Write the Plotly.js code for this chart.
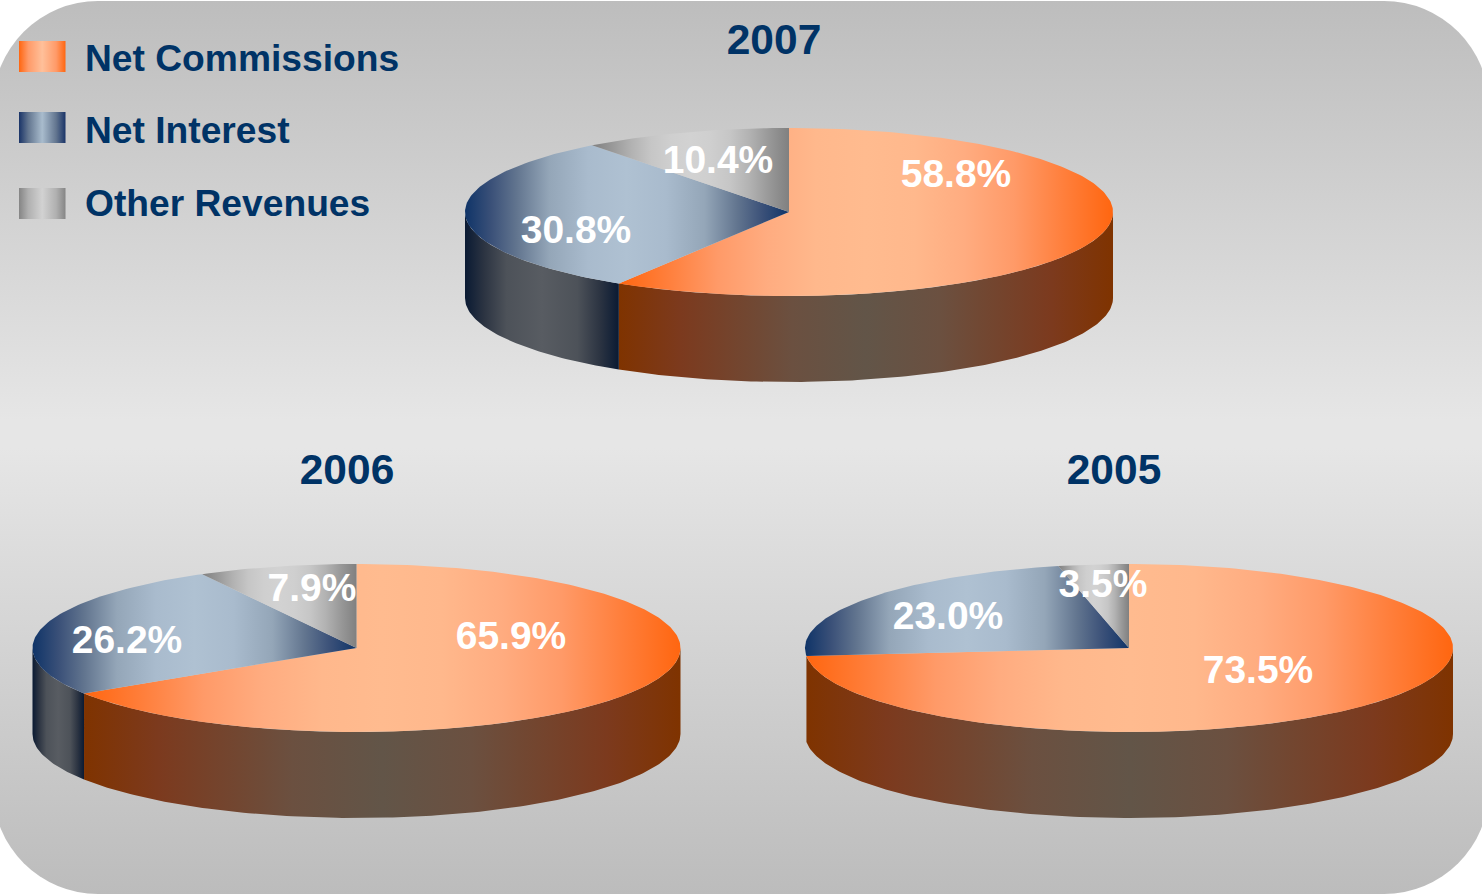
<!DOCTYPE html>
<html>
<head>
<meta charset="utf-8">
<script src="https://cdn.plot.ly/plotly-3.0.1.min.js"></script>
<style>
html,body{margin:0;padding:0;background:#fff;width:1482px;height:894px;overflow:hidden}
#bg{position:absolute;left:-7px;top:1px;width:1496px;height:893px;border-radius:105px;
background:linear-gradient(180deg,#bdbdbd 0%,#e6e6e6 47%,#e6e6e6 50%,#bcbcbc 100%)}
#chart{position:absolute;left:0;top:0;width:1482px;height:894px}
</style>
</head>
<body>
<div id="bg"></div>
<div id="chart"></div>
<script>
// Data
const years = ['2007', '2006', '2005'];
const categories = ['Net Commissions', 'Net Interest', 'Other Revenues'];
const netCommissions = [58.8, 65.9, 73.5];
const netInterest = [30.8, 26.2, 23.0];
const otherRevenues = [10.4, 7.9, 3.5];

// Layout of the page (pixel-like axis units)
const pieCentres = [[789, 212], [356.5, 648], [1129, 648]];
const titlePos = [[774, 43], [347, 473], [1114, 473]];
const labelPos = [
  [[956, 177.5], [576, 233.5], [718, 163.5]],
  [[511, 639.5], [127, 643.5], [312, 591.5]],
  [[1258, 673.5], [948, 619.5], [1103, 587.5]]
];
const RX = 324, RY = 84, DEPTH = 86;

// Styles: colour ramps from the edge of a shape (0) to its middle (0.5)
const topRamps = [
  [[0, '#ff6610'], [0.1, '#ff7f3c'], [0.2, '#ff9a68'], [0.3, '#ffac80'], [0.4, '#ffb88c'], [0.5, '#ffbb8f']],
  [[0, '#0f3468'], [0.08, '#3a5078'], [0.16, '#62758f'], [0.26, '#94a6b8'], [0.38, '#a9bbcd'], [0.5, '#afc1d2']],
  [[0, '#808080'], [0.1, '#989898'], [0.2, '#b2b2b2'], [0.3, '#c6c6c6'], [0.4, '#cfcfcf'], [0.5, '#d2d2d2']]
];
const wallRamps = [
  [[0, '#7f3300'], [0.125, '#7c3a1e'], [0.27, '#714833'], [0.35, '#6b5040'], [0.5, '#625548']],
  [[0, '#0a1a33'], [0.125, '#2c3442'], [0.27, '#4d5259'], [0.5, '#585c62']]
];
const swatchRamps = [
  [[0, '#ff6610'], [0.2, '#ff9a68'], [0.5, '#ffc09a']],
  [[0, '#1a3468'], [0.2, '#62758f'], [0.5, '#a9bccd']],
  [[0, '#858585'], [0.2, '#b0b0b0'], [0.5, '#d2d2d2']]
];
const NAVY = '#003366';
const FONT = 'Liberation Sans, Arial, sans-serif';

function grad(ramp) {
  const right = ramp.slice(0, -1).reverse().map(s => [1 - s[0], s[1]]);
  return {type: 'horizontal', colorscale: ramp.concat(right)};
}
const base = {hoverinfo: 'skip', showlegend: false, cliponaxis: false};

function arc(c, a0, a1, dy) {
  const xs = [], ys = [], n = Math.max(2, Math.ceil(Math.abs(a1 - a0)));
  for (let i = 0; i <= n; i++) {
    const a = (a0 + (a1 - a0) * i / n) * Math.PI / 180;
    xs.push(c[0] + RX * Math.sin(a));
    ys.push(c[1] - RY * Math.cos(a) + dy);
  }
  return [xs, ys];
}

const traces = [];
years.forEach((year, p) => {
  const c = pieCentres[p];
  const shares = [netCommissions[p], netInterest[p], otherRevenues[p]];
  let start = 0;
  const walls = [], tops = [];
  shares.forEach((v, s) => {
    const end = start + v * 3.6;
    const [ax, ay] = arc(c, start, end, 0);
    tops.push({...base, type: 'scatter', mode: 'lines', name: categories[s] + ' ' + year,
      x: [c[0], ...ax, c[0]], y: [c[1], ...ay, c[1]],
      fill: 'toself', line: {width: 0, color: topRamps[s][0][1]}, fillgradient: grad(topRamps[s])});
    const w0 = Math.max(start, 90), w1 = Math.min(end, 270);
    if (w1 - w0 > 10) {
      const [tx, ty] = arc(c, w0, w1, 0);
      const [bx, by] = arc(c, w1, w0, DEPTH);
      walls.push({...base, type: 'scatter', mode: 'lines', name: categories[s] + ' ' + year + ' side',
        x: [...tx, ...bx, tx[0]], y: [...ty, ...by, ty[0]],
        fill: 'toself', line: {width: 0, color: wallRamps[s][0][1]}, fillgradient: grad(wallRamps[s])});
    }
    start = end;
  });
  traces.push(...walls, ...tops);
  traces.push({...base, type: 'scatter', mode: 'text', name: year + ' labels',
    x: labelPos[p].map(q => q[0]), y: labelPos[p].map(q => q[1]),
    text: shares.map(v => v.toFixed(1) + '%'), textposition: 'middle center',
    textfont: {family: FONT, size: 39, color: '#ffffff', weight: 700}});
  traces.push({...base, type: 'scatter', mode: 'text', name: year + ' title',
    x: [titlePos[p][0]], y: [titlePos[p][1]], text: [year], textposition: 'middle center',
    textfont: {family: FONT, size: 42.5, color: NAVY, weight: 700}});
});

// Legend
const swatchTop = [41, 112, 188];
const legendTextY = [62, 134, 207];
categories.forEach((name, s) => {
  const t = swatchTop[s];
  traces.push({...base, type: 'scatter', mode: 'lines', name: name + ' key',
    x: [19, 65.5, 65.5, 19, 19], y: [t, t, t + 31, t + 31, t],
    fill: 'toself', line: {width: 0, color: swatchRamps[s][0][1]}, fillgradient: grad(swatchRamps[s])});
});
traces.push({...base, type: 'scatter', mode: 'text', name: 'legend',
  x: categories.map(() => 85), y: legendTextY, text: categories, textposition: 'middle right',
  textfont: {family: FONT, size: 37.2, color: NAVY, weight: 700}});

const layout = {
  width: 1482, height: 894, margin: {l: 0, r: 0, t: 0, b: 0},
  paper_bgcolor: 'rgba(0,0,0,0)', plot_bgcolor: 'rgba(0,0,0,0)',
  xaxis: {range: [0, 1482], visible: false, fixedrange: true},
  yaxis: {range: [894, 0], visible: false, fixedrange: true},
  showlegend: false, hovermode: false
};
Plotly.newPlot('chart', traces, layout, {displayModeBar: false, staticPlot: true});
</script>
</body>
</html>
